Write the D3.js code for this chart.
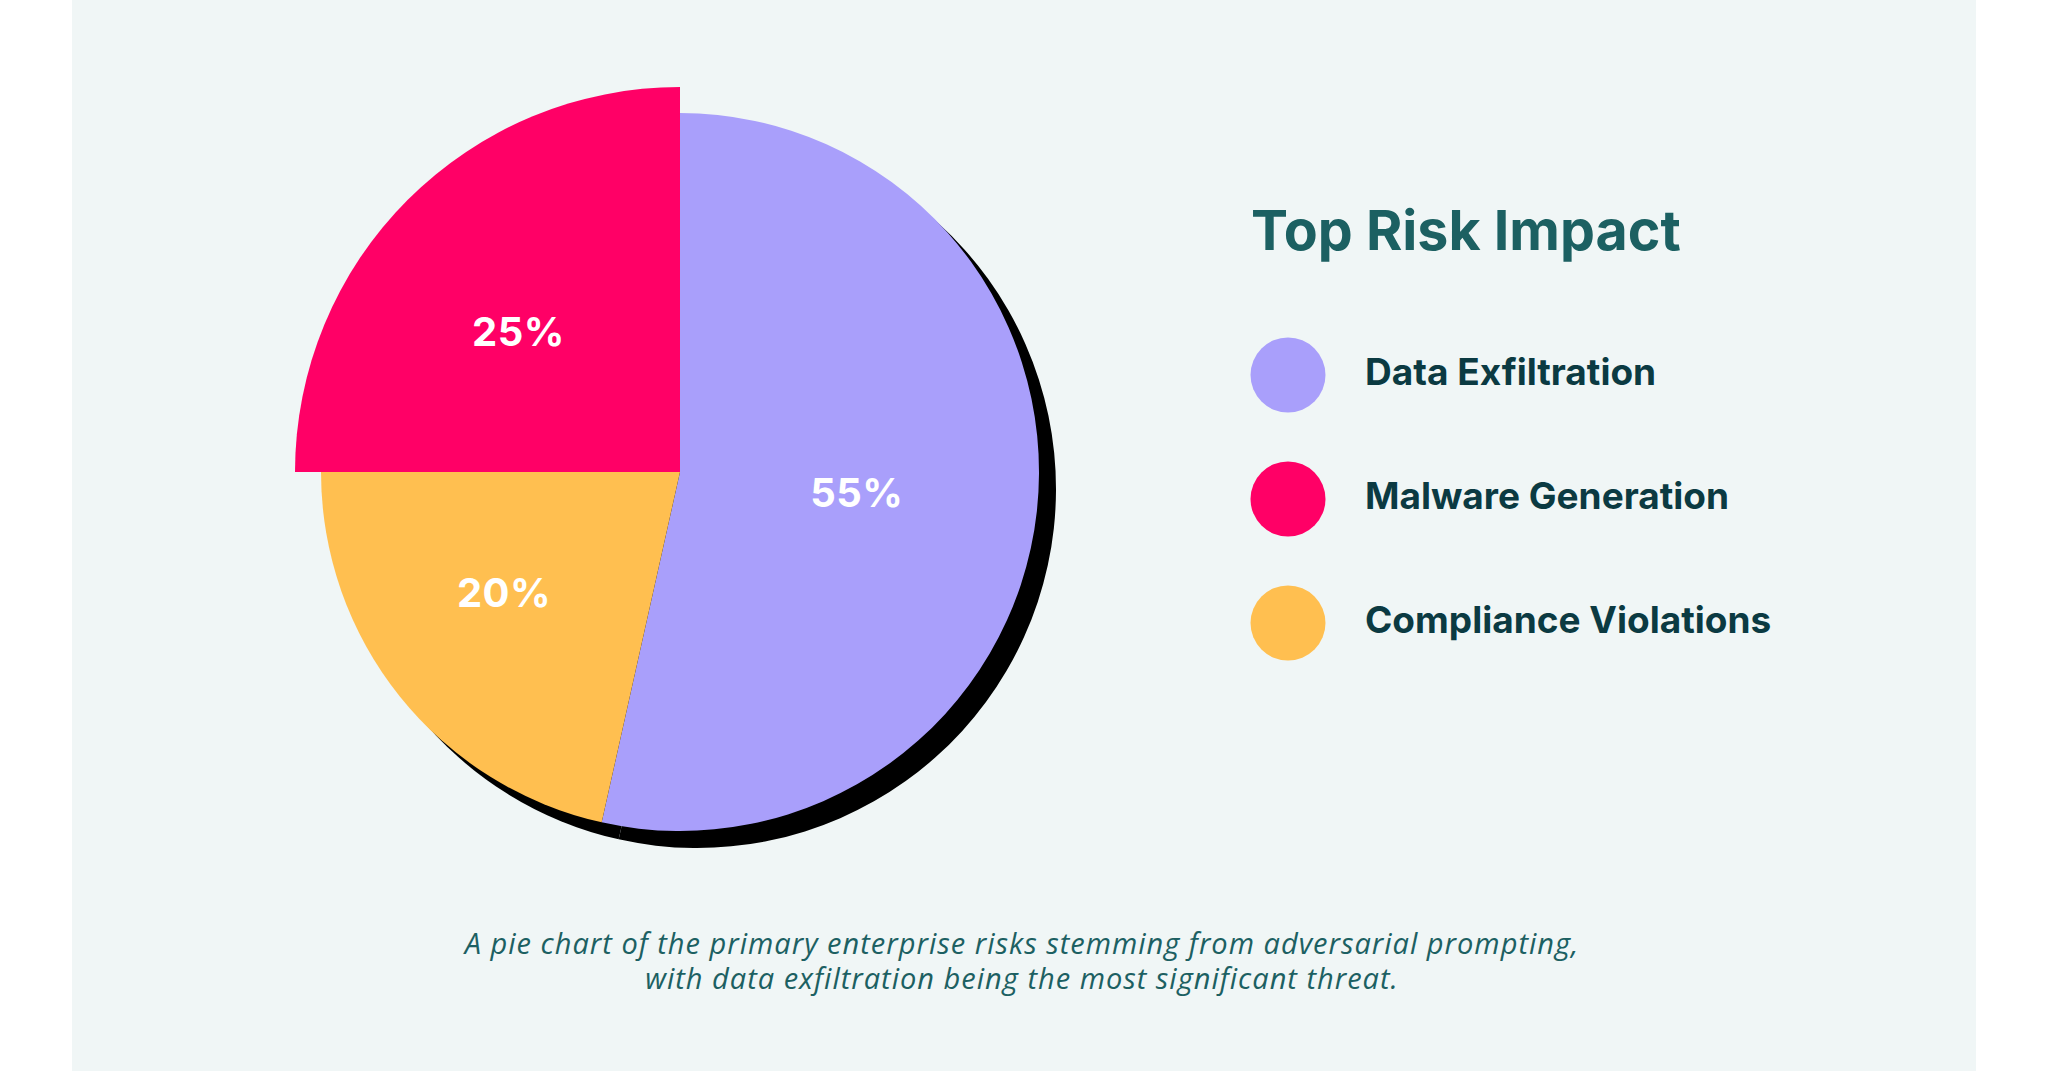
<!DOCTYPE html>
<html>
<head>
<meta charset="utf-8">
<script src="https://cdn.jsdelivr.net/npm/d3@7"></script>
<style>
  html, body { margin: 0; padding: 0; background: #ffffff; }
  svg { display: block; }
</style>
</head>
<body>
<svg id="chart" width="2048" height="1071"></svg>
<script>
// ---- data ----
const categories = ["Data Exfiltration", "Malware Generation", "Compliance Violations"];
// slice shares as drawn in the picture (clockwise from 12 o'clock: purple, yellow, red)
const sliceOrder = ["Data Exfiltration", "Compliance Violations", "Malware Generation"];
const sliceShares = [53.5, 21.5, 25];
const sliceLabels = ["55%", "20%", "25%"];
const titleText = "Top Risk Impact";
const captionLines = [
  "A pie chart of the primary enterprise risks stemming from adversarial prompting,",
  "with data exfiltration being the most significant threat."
];

// ---- styles ----
const colors = {
  "Data Exfiltration": "#a99ffb",
  "Malware Generation": "#ff0066",
  "Compliance Violations": "#ffbf50"
};
const outerR = { "Data Exfiltration": 359, "Compliance Violations": 359, "Malware Generation": 385 };
const labelR = { "Data Exfiltration": 178, "Compliance Violations": 213, "Malware Generation": 214 };
const labelShiftDeg = { "Data Exfiltration": 0.3, "Compliance Violations": 4.4, "Malware Generation": -4 };

const svg = d3.select("#chart");
const W = 2048, H = 1071;

// panel background
svg.append("rect").attr("x", 72).attr("y", 0).attr("width", 1904).attr("height", H).attr("fill", "#f0f6f6");

const cx = 680, cy = 472;
const pieData = d3.pie().sort(null).value(d => d.value).startAngle(0).endAngle(2 * Math.PI)(
  sliceShares.map((v, i) => ({ name: sliceOrder[i], value: v, label: sliceLabels[i] }))
);

const baseArc = d3.arc().innerRadius(0).outerRadius(359);

// shadow
svg.append("g").attr("transform", `translate(${cx + 17},${cy + 17})`)
  .selectAll("path").data(pieData).join("path")
  .attr("d", baseArc).attr("fill", "#000");

const g = svg.append("g").attr("transform", `translate(${cx},${cy})`);
g.selectAll("path.slice").data(pieData).join("path")
  .attr("class", "slice")
  .attr("d", d => d3.arc().innerRadius(0).outerRadius(outerR[d.data.name])(d))
  .attr("fill", d => colors[d.data.name]);

g.selectAll("text.pct").data(pieData).join("text")
  .attr("class", "pct")
  .attr("transform", d => {
    const r = labelR[d.data.name];
    const shift = labelShiftDeg[d.data.name] * Math.PI / 180;
    const c = d3.arc().innerRadius(r).outerRadius(r)
      .centroid({ startAngle: d.startAngle + shift, endAngle: d.endAngle + shift });
    return `translate(${c[0]},${c[1]})`;
  })
  .attr("text-anchor", "middle")
  .attr("dominant-baseline", "central")
  .attr("font-family", "Inter, sans-serif")
  .attr("font-weight", 700)
  .attr("font-size", 40)
  .attr("letter-spacing", 0.5)
  .attr("fill", "#ffffff")
  .text(d => d.data.label);

// legend
svg.append("text")
  .attr("x", 1251).attr("y", 250)
  .attr("font-family", "Inter, sans-serif")
  .attr("font-weight", 700)
  .attr("font-size", 55.5)
  .attr("fill", "#1c6062")
  .text(titleText);

const legendY = d3.scalePoint().domain(categories).range([375, 623]);
const lg = svg.append("g");
lg.selectAll("circle").data(categories).join("circle")
  .attr("cx", 1288).attr("cy", d => legendY(d)).attr("r", 37.5)
  .attr("fill", d => colors[d]);
lg.selectAll("text").data(categories).join("text")
  .attr("x", 1365).attr("y", d => legendY(d) + 10)
  .attr("font-family", "Inter, sans-serif")
  .attr("font-weight", 700)
  .attr("font-size", 37)
  .attr("fill", "#0b3a42")
  .text(d => d);

// caption
svg.append("g").selectAll("text").data(captionLines).join("text")
  .attr("x", 1022).attr("y", (d, i) => 954 + i * 35)
  .attr("text-anchor", "middle")
  .attr("font-family", "'Open Sans', sans-serif")
  .attr("font-style", "italic")
  .attr("font-size", 29)
  .attr("letter-spacing", 1)
  .attr("fill", "#1c6062")
  .text(d => d);
</script>
</body>
</html>
